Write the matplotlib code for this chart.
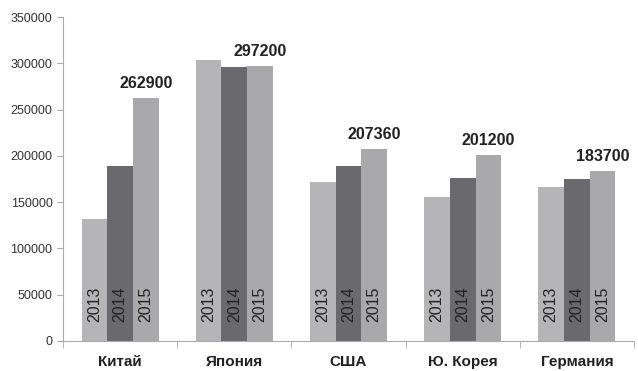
import matplotlib.pyplot as plt
import numpy as np

plt.rcParams['font.family'] = ['Liberation Sans', 'DejaVu Sans']

countries = ['Китай', 'Япония', 'США', 'Ю. Корея', 'Германия']
years = ['2013', '2014', '2015']
v2013 = [132000, 304000, 172000, 155500, 166500]
v2014 = [189000, 295500, 189000, 176000, 175000]
v2015 = [262900, 297200, 207360, 201200, 183700]
colors = ['#b5b5b7', '#6a6a6e', '#a9a9ab']

fig = plt.figure(figsize=(6.38, 3.71), dpi=100)
ax = fig.add_axes([0.0987, 0.081, 0.895, 0.873])

x = np.arange(len(countries))
w = 0.225
series = [v2013, v2014, v2015]
for i, (vals, c) in enumerate(zip(series, colors)):
    pos = x + (i - 1) * w
    ax.bar(pos, vals, width=w, color=c, zorder=2)
    for p in pos:
        ax.text(p, 21000, years[i], rotation=90, ha='center', va='bottom',
                fontsize=11.5, color='#222222', zorder=3)

# подписи над столбцами 2015
for xi, v in zip(x, v2015):
    ax.text(xi + w, v + 7500, str(v), ha='center', va='bottom',
            fontsize=11.5, fontweight='bold', color='#222222')

ax.set_xlim(-0.5, len(countries) - 0.5)
ax.set_ylim(0, 350000)
ax.set_yticks(np.arange(0, 350001, 50000))
ax.tick_params(axis='y', labelsize=9, colors='#333333', length=4, color='#aaaaaa')
ax.set_xticks(x)
ax.set_xticklabels(countries, fontsize=11, fontweight='bold', color='#222222')
ax.tick_params(axis='x', length=0, pad=10)
ax.set_xticks(np.arange(-0.5, len(countries)), minor=True)
ax.tick_params(axis='x', which='minor', length=5, color='#aaaaaa')

for s in ['top', 'right']:
    ax.spines[s].set_visible(False)
for s in ['left', 'bottom']:
    ax.spines[s].set_color('#aaaaaa')

fig.savefig('out.png', dpi=100)
